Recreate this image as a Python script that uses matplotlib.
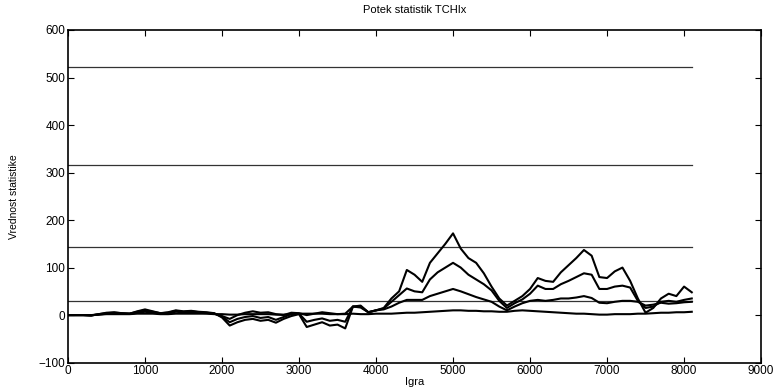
import matplotlib
matplotlib.use('Agg')
import matplotlib.pyplot as plt
import numpy as np

plt.rcParams['font.family'] = ['Liberation Sans', 'DejaVu Sans']

# igre (vsakih 100)
igra = np.arange(0, 8200, 100)

# potek statistik, odcitano s slike
stat_a = [0, 0, 0, -1, 2, 5, 6, 4, 3, 8,
          12, 8, 4, 6, 10, 8, 9, 7, 6, 4,
          -5, -22, -15, -10, -8, -12, -10, -16, -8, -2,
          2, -25, -20, -15, -22, -20, -28, 18, 20, 6,
          10, 15, 35, 50, 95, 85, 70, 110, 130, 150,
          172, 140, 120, 110, 88, 60, 35, 20, 30, 40,
          55, 78, 72, 70, 90, 105, 120, 137, 125, 80,
          78, 92, 100, 72, 35, 5, 15, 35, 45, 40,
          60, 48]
stat_b = [0, 0, 0, -1, 2, 4, 5, 4, 3, 7,
          10, 7, 4, 5, 9, 7, 8, 6, 5, 3,
          -3, -15, -8, -4, -2, -6, -4, -10, -4, 2,
          3, -14, -10, -7, -12, -10, -14, 18, 18, 6,
          10, 14, 28, 42, 56, 50, 48, 75, 90, 100,
          110, 100, 85, 75, 65, 52, 30, 15, 25, 33,
          45, 62, 55, 55, 65, 72, 80, 88, 85, 55,
          55, 60, 62, 58, 30, 15, 18, 28, 30, 28,
          32, 35]
stat_c = [0, 0, 0, 0, 1, 3, 4, 3, 3, 5,
          7, 5, 4, 4, 7, 6, 6, 5, 4, 3,
          -2, -8, 0, 5, 8, 5, 6, 2, 0, 5,
          4, 0, 3, 6, 4, 2, 3, 18, 16, 6,
          10, 12, 18, 26, 32, 32, 32, 40, 45, 50,
          55, 50, 44, 38, 33, 28, 18, 10, 18, 25,
          30, 32, 30, 32, 35, 35, 37, 40, 36, 26,
          25, 28, 30, 30, 28, 20, 22, 26, 24, 25,
          27, 28]
stat_d = [0, 0, 0, 0, 1, 2, 2, 2, 2, 3,
          3, 3, 2, 2, 3, 3, 3, 3, 3, 2,
          2, 1, 1, 2, 2, 2, 2, 1, 1, 2,
          3, 3, 3, 3, 2, 2, 2, 3, 2, 2,
          3, 3, 3, 4, 5, 5, 6, 7, 8, 9,
          10, 10, 9, 9, 8, 8, 7, 7, 9, 10,
          9, 8, 7, 6, 5, 4, 3, 3, 2, 1,
          1, 2, 2, 2, 3, 3, 4, 5, 5, 6,
          6, 7]

# kriticne meje
meje = [523, 316, 143, 30]
konec = 8100

fig = plt.figure(figsize=(7.77, 3.87), dpi=100)
ax = fig.add_axes([0.0875, 0.063, 0.892, 0.8595])

for m in meje:
    ax.plot([0, konec], [m, m], color='#333333', lw=0.9)

for s in (stat_d, stat_c, stat_b, stat_a):
    ax.plot(igra, s, color='k', lw=1.5)

ax.set_xlim(0, 9000)
ax.set_ylim(-100, 600)
ax.set_xticks(np.arange(0, 9001, 1000))
ax.set_yticks(np.arange(-100, 601, 100))
ax.tick_params(direction='in', length=4, top=True, right=True, labelsize=8.5, pad=2)
for sp in ax.spines.values():
    sp.set_linewidth(1.2)

ax.set_title('Potek statistik TCHIx', fontsize=8, pad=12)
ax.set_xlabel('Igra', fontsize=8, labelpad=0)
ax.set_ylabel('Vrednost statistike', fontsize=7.5, labelpad=14)

fig.savefig('out.png', dpi=100)
